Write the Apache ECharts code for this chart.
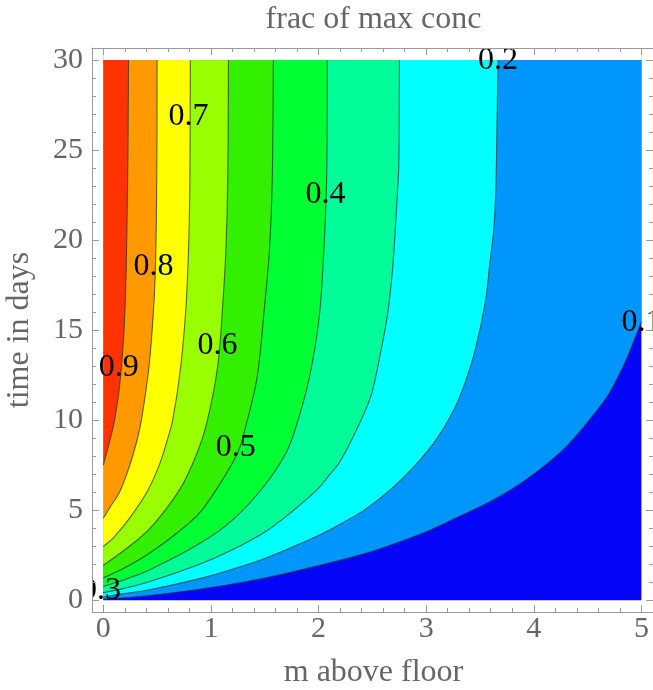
<!DOCTYPE html>
<html>
<head>
<meta charset="utf-8">
<script src="https://cdn.jsdelivr.net/npm/echarts@6/dist/echarts.min.js"></script>
<style>
html,body{margin:0;padding:0;background:#fff;}
#chart{width:653px;height:690px;}
</style>
</head>
<body>
<div id="chart"></div>
<script>
// ---- data (x = m above floor, t = time in days) ----
const levels = [0.1, 0.2, 0.3, 0.4, 0.5, 0.6, 0.7, 0.8, 0.9];
const contour01 = [[0,0.05],[0.2,0.13],[0.432,0.26],[0.895,0.61],[1.2,0.9],[1.512,1.24],[2.0,1.92],[2.438,2.6],[2.75,3.23],[3.05,3.93],[3.30,4.63],[3.61,5.52],[3.918,6.65],[4.227,8.1],[4.38,9.03],[4.535,10.15],[4.69,11.38],[4.84,13.1],[4.94,14.55],[5.0,15.45]];
const contour02 = [[0,0.18],[0.2,0.37],[0.432,0.58],[0.895,1.2],[1.2,1.72],[1.512,2.35],[2.0,3.6],[2.2,4.22],[2.438,5.06],[2.684,6.22],[2.9,7.5],[3.085,8.85],[3.239,10.35],[3.363,12.1],[3.456,13.9],[3.548,16.5],[3.594,18.8],[3.625,20.4],[3.645,22.3],[3.658,26.2],[3.668,30]];
const contour03 = [[0,0.42],[0.2,0.67],[0.432,1.04],[0.895,2.0],[1.2,2.8],[1.512,3.83],[1.75,4.9],[1.99,6.15],[2.1,6.95],[2.2,7.7],[2.38,9.8],[2.49,11.4],[2.575,13.7],[2.64,15.8],[2.684,18.1],[2.712,20.4],[2.73,22.3],[2.746,24.2],[2.752,30]];
const contour04 = [[0,0.76],[0.2,1.15],[0.432,1.69],[0.895,3.15],[1.2,4.45],[1.49,6.3],[1.70,8.2],[1.80,9.8],[1.913,12.3],[2.006,15.7],[2.05,19.5],[2.075,23.35],[2.082,30]];
const contour05 = [[0,1.24],[0.2,1.8],[0.432,2.62],[0.7,3.8],[0.895,4.85],[1.05,6.14],[1.25,8.2],[1.33,9.8],[1.43,12.4],[1.50,16.41],[1.545,19.5],[1.57,23.35],[1.58,30]];
const contour06 = [[0,1.94],[0.2,2.8],[0.432,3.97],[0.71,6.14],[0.86,8.0],[0.96,9.8],[1.063,12.98],[1.11,16.41],[1.14,19.5],[1.157,23.35],[1.163,30]];
const contour07 = [[0,2.98],[0.1,3.5],[0.25,4.6],[0.41,6.05],[0.52,7.5],[0.59,8.8],[0.645,10.0],[0.72,12.98],[0.77,16.41],[0.795,20],[0.805,23.35],[0.809,30]];
const contour08 = [[0,4.55],[0.062,5.15],[0.155,6.05],[0.247,7.5],[0.31,8.8],[0.355,10.03],[0.425,12.98],[0.47,16.41],[0.487,19],[0.497,23.35],[0.50,30]];
const contour09 = [[0,7.5],[0.05,8.6],[0.1,9.85],[0.15,11.8],[0.19,14.7],[0.21,17.6],[0.222,21.5],[0.23,25],[0.235,30]];
const contours = [contour01, contour02, contour03, contour04, contour05, contour06, contour07, contour08, contour09];

const labelText = ['0.1','0.2','0.3','0.4','0.5','0.6','0.7','0.8','0.9'];
const labelX = [5.0, 3.668, -0.02, 2.064, 1.231, 1.062, 0.791, 0.467, 0.145];
const labelT = [15.44, 29.97, 0.55, 22.52, 8.50, 14.13, 26.85, 18.52, 12.9];

const domainX = [0, 5];
const domainT = [0, 30];

const xMajorTicks = [0, 1, 2, 3, 4, 5];
const xMinorTicks = [0.2,0.4,0.6,0.8,1.2,1.4,1.6,1.8,2.2,2.4,2.6,2.8,3.2,3.4,3.6,3.8,4.2,4.4,4.6,4.8];
const yMajorTicks = [0, 5, 10, 15, 20, 25, 30];
const yMinorTicks = [1,2,3,4,6,7,8,9,11,12,13,14,16,17,18,19,21,22,23,24,26,27,28,29];

// band colours: below 0.1, 0.1-0.2, ..., above 0.9
const bandColors = ['#0505fa','#0096fc','#00ffff','#00fb98','#00ff33','#33f000','#99ff00','#ffff00','#ff9900','#ff3300'];

// ---- chart ----
const chart = echarts.init(document.getElementById('chart'), null, {renderer: 'canvas'});
const SERIF = '"Liberation Serif", "Times New Roman", serif';
const FRAME = '#9a9a9a';
const TEXT = '#666666';
const X_MIN = -0.1046, X_MAX = 5.108, Y_MIN = -0.655, Y_MAX = 30.666;
const SMOOTH = 0.35;

function xAxisDef(position, ticks, len, withLabels, withLine) {
  return {
    type: 'value', gridIndex: 0, position: position, z: 10,
    min: X_MIN, max: X_MAX,
    axisLine: {show: withLine, onZero: false, lineStyle: {color: FRAME, width: 1}},
    axisTick: {show: true, inside: true, length: len, customValues: ticks, lineStyle: {color: FRAME, width: 1}},
    axisLabel: withLabels ? {show: true, customValues: ticks, margin: 2, color: TEXT, fontFamily: SERIF, fontSize: 30} : {show: false},
    splitLine: {show: false}
  };
}
function yAxisDef(position, ticks, len, withLabels, withLine) {
  return {
    type: 'value', gridIndex: 0, position: position, z: 10,
    min: Y_MIN, max: Y_MAX,
    axisLine: {show: withLine, onZero: false, lineStyle: {color: FRAME, width: 1}},
    axisTick: {show: true, inside: true, length: len, customValues: ticks, lineStyle: {color: FRAME, width: 1}},
    axisLabel: withLabels ? {show: true, customValues: ticks, margin: 9, color: TEXT, fontFamily: SERIF, fontSize: 30} : {show: false},
    splitLine: {show: false}
  };
}

function polygonSeries(points, color, z) {
  return {
    type: 'custom', coordinateSystem: 'cartesian2d', xAxisIndex: 0, yAxisIndex: 0,
    clip: true, silent: true, z: z, animation: false,
    data: points,
    renderItem: function (params, api) {
      if (params.dataIndex !== 0) return null;
      return {
        type: 'polygon',
        shape: {points: points.map(function (p) { return api.coord(p); })},
        style: {fill: color, stroke: null}
      };
    }
  };
}

const series = [];
// base rectangle: value below 0.1
series.push(polygonSeries([[domainX[0], domainT[0]], [domainX[1], domainT[0]], [domainX[1], domainT[1]], [domainX[0], domainT[1]]], bandColors[0], 1));
// region above each contour, filled up to the top of the plot
contours.forEach(function (c, i) {
  series.push({
    type: 'line', data: c, smooth: SMOOTH, showSymbol: false, symbol: 'none', clip: true, silent: true,
    animation: false, z: 2,
    lineStyle: {width: 0, opacity: 0},
    areaStyle: {color: bandColors[i + 1], opacity: 1, origin: 'end'}
  });
});
// white padding above t = 30 (inside the frame)
series.push(polygonSeries([[domainX[0], domainT[1]], [domainX[1], domainT[1]], [domainX[1], Y_MAX], [domainX[0], Y_MAX]], '#ffffff', 3));
// contour lines
contours.forEach(function (c) {
  series.push({
    type: 'line', data: c, smooth: SMOOTH, showSymbol: false, symbol: 'none', clip: true, silent: true,
    animation: false, z: 4,
    lineStyle: {color: 'rgba(35,50,50,0.72)', width: 1.1}
  });
});
// contour labels
series.push({
  type: 'custom', coordinateSystem: 'cartesian2d', clip: true, silent: true, z: 5, animation: false,
  data: labelX.map(function (x, i) { return [x, labelT[i]]; }),
  renderItem: function (params, api) {
    const p = api.coord([api.value(0), api.value(1)]);
    return {
      type: 'text', x: p[0], y: p[1],
      style: {text: labelText[params.dataIndex], fill: '#000', font: '32px ' + SERIF,
              align: 'center', verticalAlign: 'middle', textAlign: 'center', textVerticalAlign: 'middle'}
    };
  }
});

chart.setOption({
  animation: false,
  backgroundColor: '#ffffff',
  grid: {left: 92, top: 48, width: 563, height: 564, containLabel: false},
  xAxis: [
    xAxisDef('bottom', xMajorTicks, 7, true, true),
    xAxisDef('bottom', xMinorTicks, 4, false, false),
    xAxisDef('top', xMajorTicks, 7, false, true),
    xAxisDef('top', xMinorTicks, 4, false, false)
  ],
  yAxis: [
    yAxisDef('left', yMajorTicks, 7, true, true),
    yAxisDef('left', yMinorTicks, 4, false, false),
    yAxisDef('right', yMajorTicks, 7, false, true),
    yAxisDef('right', yMinorTicks, 4, false, false)
  ],
  graphic: [
    {type: 'text', x: 373.5, y: 20, z: 100,
     style: {text: 'frac of max conc', fill: TEXT, font: '32px ' + SERIF, align: 'center', verticalAlign: 'middle'}},
    {type: 'text', x: 373.5, y: 673, z: 100,
     style: {text: 'm above floor', fill: TEXT, font: '32px ' + SERIF, align: 'center', verticalAlign: 'middle'}},
    {type: 'text', x: 19.5, y: 330, rotation: Math.PI / 2, z: 100,
     style: {text: 'time in days', fill: TEXT, font: '32px ' + SERIF, align: 'center', verticalAlign: 'middle'}}
  ],
  series: series
});
</script>
</body>
</html>
